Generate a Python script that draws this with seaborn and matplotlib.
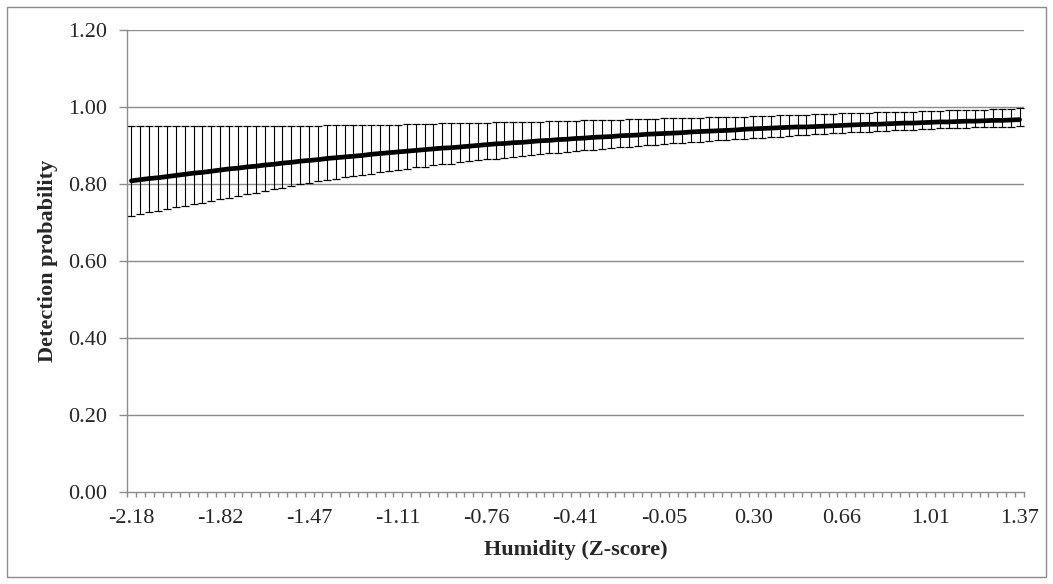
import numpy as np
import pandas as pd
import matplotlib
matplotlib.use("Agg")
import matplotlib.pyplot as plt
from matplotlib.patches import Rectangle
from matplotlib.ticker import FixedLocator, NullFormatter
import seaborn as sns

# ---- data ----
tick_labels = ["-2.18", "-1.82", "-1.47", "-1.11", "-0.76", "-0.41",
               "-0.05", "0.30", "0.66", "1.01", "1.37"]

mean_p = [0.809, 0.812, 0.815, 0.817, 0.820, 0.823, 0.826, 0.829, 0.831, 0.834, 0.837,
          0.840, 0.842, 0.845, 0.847, 0.850, 0.852, 0.855, 0.857, 0.860, 0.862,
          0.864, 0.867, 0.869, 0.871, 0.873, 0.875, 0.878, 0.880, 0.882, 0.884,
          0.886, 0.888, 0.890, 0.892, 0.894, 0.895, 0.897, 0.899, 0.901, 0.903,
          0.905, 0.906, 0.908, 0.909, 0.911, 0.913, 0.914, 0.916, 0.917, 0.919,
          0.920, 0.922, 0.923, 0.924, 0.926, 0.927, 0.928, 0.930, 0.931, 0.932,
          0.933, 0.934, 0.936, 0.937, 0.938, 0.939, 0.940, 0.941, 0.943, 0.944,
          0.945, 0.946, 0.947, 0.948, 0.949, 0.949, 0.950, 0.951, 0.952, 0.953,
          0.954, 0.955, 0.956, 0.956, 0.957, 0.958, 0.959, 0.959, 0.960, 0.961,
          0.962, 0.962, 0.963, 0.964, 0.964, 0.965, 0.966, 0.966, 0.967, 0.968]

upper_p = [0.951, 0.951, 0.951, 0.951, 0.951, 0.951, 0.951, 0.951, 0.951, 0.951, 0.951,
           0.951, 0.951, 0.951, 0.951, 0.951, 0.951, 0.951, 0.951, 0.952, 0.952,
           0.952, 0.953, 0.953, 0.953, 0.954, 0.954, 0.954, 0.955, 0.955, 0.955,
           0.956, 0.956, 0.957, 0.957, 0.958, 0.958, 0.959, 0.959, 0.960, 0.960,
           0.961, 0.961, 0.962, 0.962, 0.963, 0.963, 0.964, 0.964, 0.965, 0.965,
           0.966, 0.966, 0.967, 0.968, 0.968, 0.969, 0.969, 0.970, 0.970, 0.971,
           0.972, 0.972, 0.973, 0.973, 0.974, 0.975, 0.975, 0.976, 0.976, 0.977,
           0.978, 0.978, 0.979, 0.980, 0.980, 0.981, 0.982, 0.982, 0.983, 0.984,
           0.985, 0.985, 0.986, 0.987, 0.987, 0.988, 0.989, 0.989, 0.990, 0.991,
           0.991, 0.992, 0.993, 0.993, 0.994, 0.994, 0.995, 0.996, 0.996, 0.997]

lower_p = [0.718, 0.722, 0.727, 0.731, 0.735, 0.740, 0.744, 0.748, 0.752, 0.757, 0.761,
           0.765, 0.770, 0.774, 0.778, 0.783, 0.787, 0.791, 0.795, 0.800, 0.804,
           0.808, 0.811, 0.815, 0.818, 0.821, 0.825, 0.828, 0.831, 0.835, 0.838,
           0.841, 0.844, 0.846, 0.849, 0.852, 0.854, 0.857, 0.860, 0.862, 0.865,
           0.867, 0.869, 0.871, 0.874, 0.876, 0.878, 0.880, 0.882, 0.884, 0.886,
           0.888, 0.890, 0.892, 0.894, 0.896, 0.897, 0.899, 0.901, 0.903, 0.905,
           0.906, 0.908, 0.909, 0.911, 0.912, 0.914, 0.915, 0.917, 0.918, 0.920,
           0.921, 0.923, 0.924, 0.925, 0.927, 0.928, 0.930, 0.931, 0.932, 0.934,
           0.935, 0.936, 0.937, 0.938, 0.939, 0.940, 0.941, 0.942, 0.943, 0.944,
           0.945, 0.945, 0.946, 0.947, 0.948, 0.948, 0.949, 0.950, 0.950, 0.951]

y_ticks = [0.0, 0.2, 0.4, 0.6, 0.8, 1.0, 1.2]

# ---- figure ----
sns.set_style("white")
plt.rcParams["font.family"] = ["Liberation Serif", "DejaVu Serif"]

fig = plt.figure(figsize=(10.53, 5.84), dpi=100)
ax = fig.add_axes([127 / 1053, 1 - 492.3 / 584, (1024 - 127) / 1053, (492.3 - 30.3) / 584])

n = len(mean_p)
idx = np.arange(n)
df = pd.DataFrame({"idx": idx, "p": mean_p, "lo": lower_p, "hi": upper_p})

grid_col = "#8c8c8c"
for yv in y_ticks[1:]:
    ax.axhline(yv, color=grid_col, lw=1.0, zorder=0)

yerr = np.vstack([df["p"] - df["lo"], df["hi"] - df["p"]])
ax.errorbar(df["idx"], df["p"], yerr=yerr, fmt="none", ecolor="black",
            elinewidth=0.8, capsize=3.2, capthick=0.9, zorder=2)

sns.lineplot(data=df, x="idx", y="p", ax=ax, color="black", lw=3.4, zorder=3)

ax.set_xlim(-0.5, n - 0.5)
ax.set_ylim(0, 1.2)

# x ticks: labels every 10 categories, tick marks between categories
ax.set_xticks(np.arange(0, n, 10))
ax.set_xticklabels(tick_labels)
ax.xaxis.set_minor_locator(FixedLocator(np.arange(-0.5, n, 1.0)))
ax.xaxis.set_minor_formatter(NullFormatter())
ax.tick_params(axis="x", which="both", bottom=True)
ax.tick_params(axis="x", which="major", length=0, pad=12, labelsize=16)
ax.tick_params(axis="x", which="minor", length=3.5, width=1.0, color=grid_col, direction="out")

ax.set_yticks(y_ticks)
ax.set_yticklabels([f"{v:.2f}" for v in y_ticks])
ax.tick_params(axis="y", which="major", left=True, length=5.5, width=1.0, color=grid_col,
               direction="out", labelsize=16, pad=9)

for s in ["top", "right"]:
    ax.spines[s].set_visible(False)
for s in ["left", "bottom"]:
    ax.spines[s].set_color(grid_col)
    ax.spines[s].set_linewidth(1.0)

ax.set_xlabel("Humidity (Z-score)", fontsize=16, fontweight="bold", labelpad=9)
ax.set_ylabel("Detection probability", fontsize=16, fontweight="bold", labelpad=7)

# chart-area border
fig.patches.append(Rectangle((7 / 1053, 1 - 577 / 584), (1046 - 7) / 1053, (577 - 7) / 584,
                             transform=fig.transFigure, fill=False,
                             edgecolor=grid_col, lw=1.0))

fig.savefig("out.png", dpi=100)
